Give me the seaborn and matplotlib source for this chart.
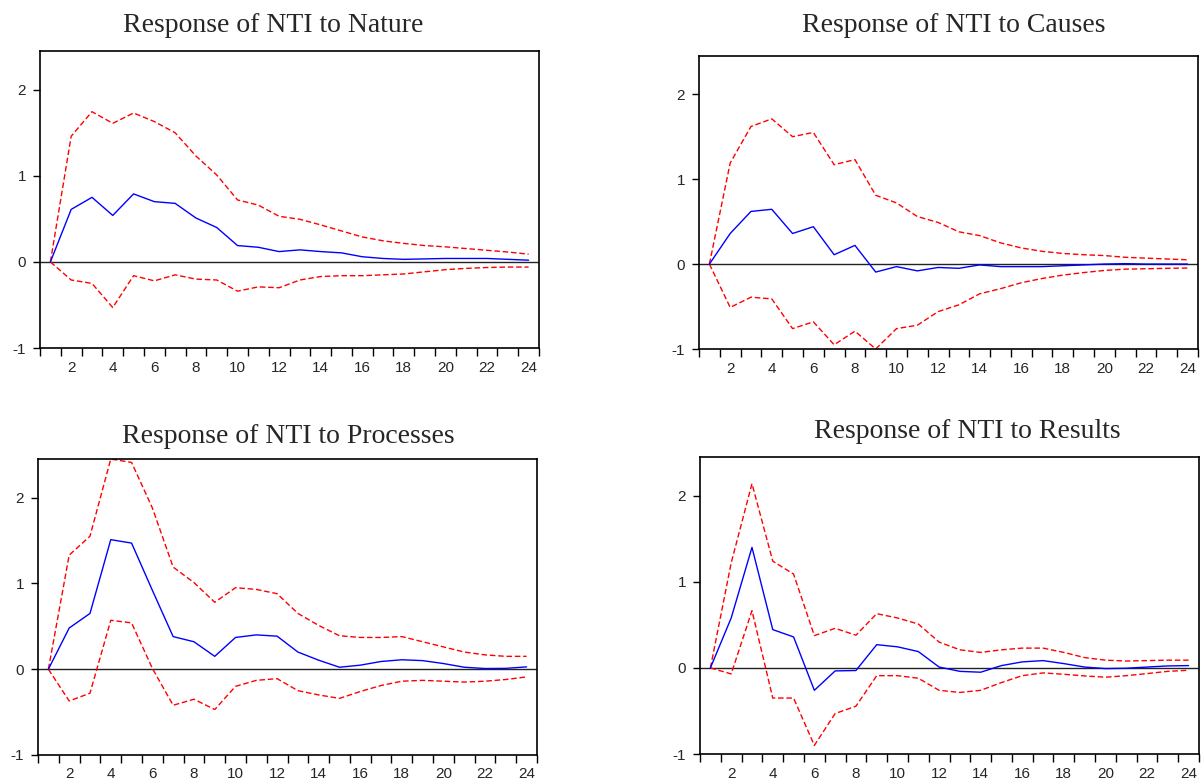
import numpy as np
import pandas as pd
import matplotlib
matplotlib.use("Agg")
import matplotlib.pyplot as plt
import seaborn as sns
from matplotlib.ticker import FixedLocator

periods = list(range(1, 25))

titles = ["Response of NTI to Nature", "Response of NTI to Causes",
          "Response of NTI to Processes", "Response of NTI to Results"]

nature_resp = [0, 0.61, 0.75, 0.54, 0.79, 0.70, 0.68, 0.51, 0.40, 0.19, 0.17, 0.12,
               0.14, 0.12, 0.105, 0.06, 0.04, 0.03, 0.035, 0.04, 0.04, 0.04, 0.03, 0.02]
nature_up = [0, 1.46, 1.745, 1.61, 1.73, 1.63, 1.50, 1.23, 1.01, 0.72, 0.66, 0.53,
             0.495, 0.43, 0.36, 0.29, 0.245, 0.215, 0.19, 0.175, 0.155, 0.135, 0.115, 0.09]
nature_lo = [0, -0.21, -0.25, -0.53, -0.16, -0.22, -0.15, -0.20, -0.21, -0.34, -0.29, -0.30,
             -0.21, -0.17, -0.16, -0.16, -0.15, -0.14, -0.115, -0.09, -0.075, -0.065, -0.06, -0.06]

causes_resp = [0, 0.36, 0.62, 0.645, 0.36, 0.44, 0.11, 0.22, -0.094, -0.03, -0.08, -0.04,
               -0.05, -0.01, -0.03, -0.03, -0.03, -0.02, -0.01, 0.0, 0.005, 0.0, 0.0, 0.0]
causes_up = [0, 1.19, 1.62, 1.71, 1.50, 1.55, 1.17, 1.23, 0.81, 0.72, 0.56, 0.49,
             0.38, 0.335, 0.25, 0.19, 0.15, 0.125, 0.11, 0.10, 0.08, 0.07, 0.06, 0.05]
causes_lo = [0, -0.51, -0.39, -0.41, -0.76, -0.68, -0.95, -0.79, -1.0, -0.76, -0.72, -0.56,
             -0.48, -0.35, -0.29, -0.22, -0.17, -0.13, -0.10, -0.075, -0.06, -0.055, -0.05, -0.047]

processes_resp = [0, 0.48, 0.65, 1.51, 1.47, 0.92, 0.38, 0.32, 0.15, 0.37, 0.40, 0.385,
                  0.20, 0.105, 0.023, 0.047, 0.09, 0.11, 0.10, 0.066, 0.023, 0.008, 0.01, 0.027]
processes_up = [0, 1.33, 1.55, 2.45, 2.41, 1.88, 1.19, 1.01, 0.78, 0.95, 0.93, 0.88,
                0.65, 0.51, 0.39, 0.37, 0.37, 0.38, 0.32, 0.26, 0.20, 0.167, 0.15, 0.15]
processes_lo = [0, -0.37, -0.28, 0.57, 0.54, 0.01, -0.42, -0.35, -0.47, -0.20, -0.13, -0.11,
                -0.25, -0.30, -0.34, -0.26, -0.19, -0.14, -0.13, -0.14, -0.15, -0.14, -0.12, -0.09]

results_resp = [0, 0.58, 1.40, 0.445, 0.36, -0.26, -0.035, -0.03, 0.27, 0.245, 0.19, 0.01,
                -0.04, -0.05, 0.027, 0.07, 0.085, 0.05, 0.01, -0.008, -0.004, 0.01, 0.023, 0.027]
results_up = [0, 1.22, 2.14, 1.24, 1.09, 0.375, 0.46, 0.38, 0.63, 0.58, 0.51, 0.30,
              0.21, 0.18, 0.21, 0.23, 0.23, 0.18, 0.12, 0.09, 0.08, 0.085, 0.09, 0.09]
results_lo = [0, -0.07, 0.665, -0.35, -0.35, -0.90, -0.53, -0.445, -0.09, -0.09, -0.12, -0.26,
              -0.285, -0.26, -0.17, -0.09, -0.058, -0.074, -0.093, -0.108, -0.09, -0.066, -0.04, -0.027]

y_ticks = [-1, 0, 1, 2]
x_labels = list(range(2, 25, 2))

panels = [
    (nature_resp, nature_up, nature_lo),
    (causes_resp, causes_up, causes_lo),
    (processes_resp, processes_up, processes_lo),
    (results_resp, results_up, results_lo),
]

sns.set_style("white")
plt.rcParams['font.family'] = ['Liberation Sans', 'DejaVu Sans']

W, H = 1203, 782
fig = plt.figure(figsize=(W / 100, H / 100), dpi=100)

# axes boxes in pixels: left, top, right, bottom
boxes = [(40, 51, 539, 348), (699, 56, 1198, 349),
         (38, 459, 537, 755), (700, 457, 1199, 754)]
# title centers and baselines in pixels
title_pos = [(273.5, 32), (953.5, 32), (288, 443), (967.5, 438)]

for i, (resp, up, lo) in enumerate(panels):
    l, t, r, b = boxes[i]
    ax = fig.add_axes([l / W, 1 - b / H, (r - l) / W, (b - t) / H])
    df = pd.DataFrame({"period": periods, "resp": resp, "up": up, "lo": lo})
    ax.axhline(0, color="#222222", lw=1.0, zorder=1)
    sns.lineplot(data=df, x="period", y="up", ax=ax, color="#ff0000", lw=1.0,
                 linestyle=(0, (4, 2)), zorder=2)
    sns.lineplot(data=df, x="period", y="lo", ax=ax, color="#ff0000", lw=1.0,
                 linestyle=(0, (4, 2)), zorder=2)
    sns.lineplot(data=df, x="period", y="resp", ax=ax, color="#0000ff", lw=1.0, zorder=3)
    ax.set_xlim(0.5, 24.5)
    ax.set_ylim(-1, 2.45)
    ax.set_xlabel("")
    ax.set_ylabel("")
    ax.set_xticks(x_labels)
    ax.set_xticklabels([str(v) for v in x_labels])
    ax.xaxis.set_minor_locator(FixedLocator(np.arange(0.5, 24.6, 1.0)))
    ax.tick_params(axis="x", which="major", length=0, pad=9, labelsize=11)
    ax.tick_params(axis="x", which="minor", length=6, width=1.0, direction="out",
                   bottom=True, color="black")
    ax.set_yticks(y_ticks)
    ax.set_yticklabels([str(v) for v in y_ticks])
    ax.tick_params(axis="y", which="major", length=5, width=1.0, direction="out",
                   left=True, pad=5, labelsize=11, color="black")
    for s in ax.spines.values():
        s.set_color("black")
        s.set_linewidth(1.2)
    tx, ty = title_pos[i]
    fig.text(tx / W, 1 - ty / H, titles[i], ha="center", va="baseline",
             fontsize=20, family=["Liberation Serif", "DejaVu Serif"])

fig.savefig("out.png", dpi=100)
